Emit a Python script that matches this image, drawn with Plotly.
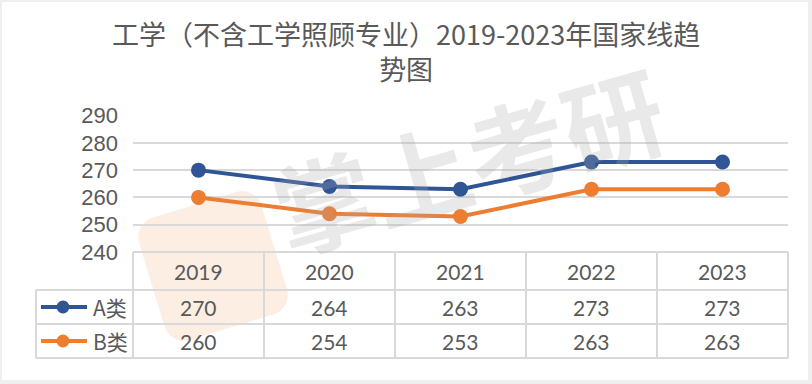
import math
import plotly.graph_objects as go

# ---- data ----
years = ["2019", "2020", "2021", "2022", "2023"]
series_names = ["A类", "B类"]
a_values = [270, 264, 263, 273, 273]
b_values = [260, 254, 253, 263, 263]
y_ticks = [240, 250, 260, 270, 280, 290]
title_text = "工学（不含工学照顾专业）2019-2023年国家线趋<br>势图"
watermark = "掌上考研"

W, H = 812, 384
BLUE = "#2F5597"
ORANGE = "#ED7D31"
GRID = "#D9D9D9"
TXT = "#595959"


def px(x):
    return x / W


def py(y):
    return 1 - y / H


# layout geometry (pixels)
plot_l, plot_r = 133, 788
plot_t, plot_b = 115, 252
col_edges = [133, 264, 395, 526, 657, 788]
leg_l = 36
row_edges = [252, 290, 324, 358]

fig = go.Figure()

fig.add_trace(go.Scatter(
    x=list(range(len(years))), y=a_values, mode="lines+markers", name=series_names[0],
    line=dict(color=BLUE, width=4), marker=dict(size=15, color=BLUE),
    hoverinfo="skip"))
fig.add_trace(go.Scatter(
    x=list(range(len(years))), y=b_values, mode="lines+markers", name=series_names[1],
    line=dict(color=ORANGE, width=4), marker=dict(size=15, color=ORANGE),
    hoverinfo="skip"))

shapes = []
annotations = []

# outer frame
shapes.append(dict(type="rect", xref="paper", yref="paper", layer="below",
                   x0=px(2), x1=px(808), y0=py(380), y1=py(2),
                   fillcolor="white", line=dict(width=0)))

# logo watermark (rotated rounded square, faint orange)
cx, cy, s, ang = 213, 266, 128, math.radians(-17)
r = 20
half = s / 2
local = []
for (qx, qy), start in zip([(half - r, -half + r), (half - r, half - r), (-half + r, half - r), (-half + r, -half + r)],
                           [-90, 0, 90, 180]):
    for k in range(0, 91, 15):
        t = math.radians(start + k)
        local.append((qx + r * math.cos(t), qy + r * math.sin(t)))
path = ""
for i, (lx, ly) in enumerate(local):
    gx = cx + lx * math.cos(ang) - ly * math.sin(ang)
    gy = cy + lx * math.sin(ang) + ly * math.cos(ang)
    path += ("M" if i == 0 else "L") + f"{px(gx):.5f},{py(gy):.5f} "
path += "Z"
shapes.append(dict(type="path", xref="paper", yref="paper", layer="below", path=path,
                   fillcolor="rgba(245,160,100,0.18)", line=dict(width=0)))

# table lines
for y in row_edges[1:]:
    shapes.append(dict(type="line", xref="paper", yref="paper",
                       x0=px(leg_l), x1=px(plot_r), y0=py(y), y1=py(y),
                       line=dict(color=GRID, width=2)))
shapes.append(dict(type="line", xref="paper", yref="paper",
                   x0=px(plot_l), x1=px(plot_r), y0=py(row_edges[0]), y1=py(row_edges[0]),
                   line=dict(color=GRID, width=2)))
for x in col_edges:
    shapes.append(dict(type="line", xref="paper", yref="paper",
                       x0=px(x), x1=px(x), y0=py(row_edges[0]), y1=py(row_edges[-1]),
                       line=dict(color=GRID, width=2)))
shapes.append(dict(type="line", xref="paper", yref="paper",
                   x0=px(leg_l), x1=px(leg_l), y0=py(row_edges[1]), y1=py(row_edges[-1]),
                   line=dict(color=GRID, width=2)))

# legend keys in the table
for i, (name, col) in enumerate(zip(series_names, [BLUE, ORANGE])):
    yc = (row_edges[i + 1] + row_edges[i + 2]) / 2
    shapes.append(dict(type="line", xref="paper", yref="paper",
                       x0=px(41), x1=px(87), y0=py(yc), y1=py(yc),
                       line=dict(color=col, width=4)))
    rad = 6.5
    shapes.append(dict(type="circle", xref="paper", yref="paper",
                       x0=px(63 - rad), x1=px(63 + rad), y0=py(yc + rad), y1=py(yc - rad),
                       fillcolor=col, line=dict(color=col, width=0)))
    annotations.append(dict(xref="paper", yref="paper", x=px(91), y=py(yc),
                            xanchor="left", yanchor="middle", showarrow=False, text=name,
                            font=dict(size=21, color=TXT, family="Noto Sans CJK SC")))

# table text
cell_font = dict(size=21, color=TXT, family="Lato, Noto Sans")
for j, yr in enumerate(years):
    xc = (col_edges[j] + col_edges[j + 1]) / 2
    annotations.append(dict(xref="paper", yref="paper", x=px(xc), y=py((row_edges[0] + row_edges[1]) / 2),
                            xanchor="center", yanchor="middle", showarrow=False, text=yr, font=cell_font))
    for i, vals in enumerate([a_values, b_values]):
        yc = (row_edges[i + 1] + row_edges[i + 2]) / 2
        annotations.append(dict(xref="paper", yref="paper", x=px(xc), y=py(yc),
                                xanchor="center", yanchor="middle", showarrow=False,
                                text=str(vals[j]), font=cell_font))

# title
annotations.append(dict(xref="paper", yref="paper", x=px(406), y=py(12),
                        xanchor="center", yanchor="top", showarrow=False, text=title_text,
                        font=dict(size=27, color=TXT, family="Noto Sans CJK SC")))

# text watermark
annotations.append(dict(xref="paper", yref="paper", x=px(468), y=py(158),
                        xanchor="center", yanchor="middle", showarrow=False,
                        text="<b>" + watermark + "</b>", textangle=-16,
                        font=dict(size=100, color="rgba(170,170,170,0.26)", family="Noto Sans CJK SC")))

fig.update_layout(
    width=W, height=H, autosize=False,
    margin=dict(l=0, r=0, t=0, b=0, autoexpand=False),
    paper_bgcolor="#EFEFEF", plot_bgcolor="rgba(0,0,0,0)",
    showlegend=False,
    shapes=shapes, annotations=annotations,
    xaxis=dict(domain=[px(plot_l), px(plot_r)], range=[-0.5, len(years) - 0.5],
               showticklabels=False, showgrid=False, zeroline=False, showline=False, ticks="",
               automargin=False),
    yaxis=dict(domain=[py(plot_b), py(plot_t)], range=[240, 290.2],
               tickvals=y_ticks, showgrid=True, gridcolor=GRID, gridwidth=1.5,
               zeroline=False, showline=False, ticks="", automargin=False,
               tickfont=dict(size=22, color=TXT, family="Liberation Sans, Arial"),
               ticklabelstandoff=14),
)

fig.write_html("out.html", config={"responsive": False, "displayModeBar": False},
               post_script="document.body.style.margin='0';document.body.style.overflow='hidden';")
